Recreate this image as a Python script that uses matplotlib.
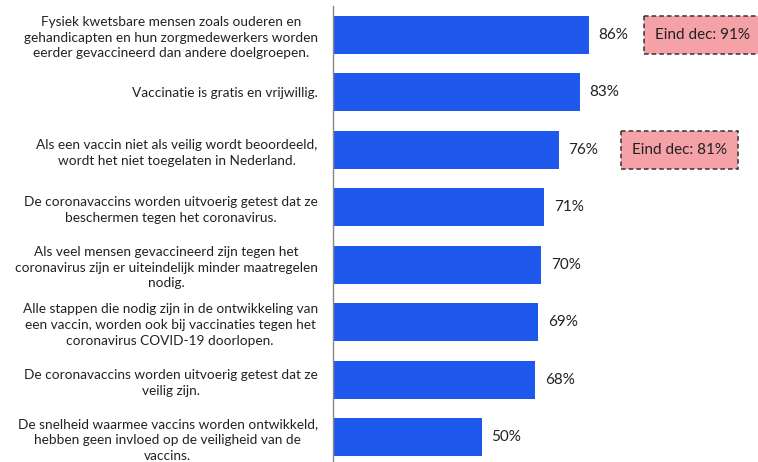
import matplotlib
matplotlib.use("Agg")
import matplotlib.pyplot as plt
from matplotlib.patches import Rectangle

plt.rcParams['font.family'] = ['Lato', 'DejaVu Sans']

# statements, top to bottom
statements = [
    "Fysiek kwetsbare mensen zoals ouderen en\ngehandicapten en hun zorgmedewerkers worden\neerder gevaccineerd dan andere doelgroepen.",
    "Vaccinatie is gratis en vrijwillig.",
    "Als een vaccin niet als veilig wordt beoordeeld,\nwordt het niet toegelaten in Nederland.",
    "De coronavaccins worden uitvoerig getest dat ze\nbeschermen tegen het coronavirus.",
    "Als veel mensen gevaccineerd zijn tegen het\ncoronavirus zijn er uiteindelijk minder maatregelen\nnodig.",
    "Alle stappen die nodig zijn in de ontwikkeling van\neen vaccin, worden ook bij vaccinaties tegen het\ncoronavirus COVID-19 doorlopen.",
    "De coronavaccins worden uitvoerig getest dat ze\nveilig zijn.",
    "De snelheid waarmee vaccins worden ontwikkeld,\nhebben geen invloed op de veiligheid van de\nvaccins.",
]
percentages = [86, 83, 76, 71, 70, 69, 68, 50]

# end of december values (only for some statements)
eind_dec = [91, None, 81, None, None, None, None, None]

fig = plt.figure(figsize=(7.58, 4.62), dpi=100)
ax = fig.add_axes([333 / 758, -4 / 462, 425 / 758, 460 / 462])

y = list(range(len(statements)))
bar_h = 0.66
ax.barh(y, percentages, height=bar_h, color='#1f58ec')

for i, p in enumerate(percentages):
    ax.annotate(f"{p}%", xy=(p, i), xytext=(7, 0), textcoords='offset points',
                ha='left', va='center', fontsize=11, color='#222222')

box_w = 39.5
box_left = {0: 104.6, 2: 96.8}
for i, v in enumerate(eind_dec):
    if v is None:
        continue
    x0 = box_left[i]
    ax.add_patch(Rectangle((x0, i - bar_h / 2), box_w, bar_h, facecolor='#f4a1a7',
                           edgecolor='#333333', linestyle=(0, (3, 2)), linewidth=1.1,
                           clip_on=False))
    ax.text(x0 + box_w / 2, i, f"Eind dec: {v}%", ha='center', va='center',
            fontsize=11, color='#222222')

ax.set_xlim(0, 143)
ax.set_ylim(len(statements) - 0.5, -0.5)
ax.set_yticks(y)
ax.set_yticklabels(statements, fontsize=9.8, color='#222222',
                   multialignment='center', linespacing=1.38)
ax.tick_params(axis='y', length=0, pad=11)
ax.set_xticks([])
for side in ['top', 'right', 'bottom']:
    ax.spines[side].set_visible(False)
ax.spines['left'].set_color('#888888')
ax.spines['left'].set_linewidth(1.0)

fig.savefig("out.png", dpi=100)
